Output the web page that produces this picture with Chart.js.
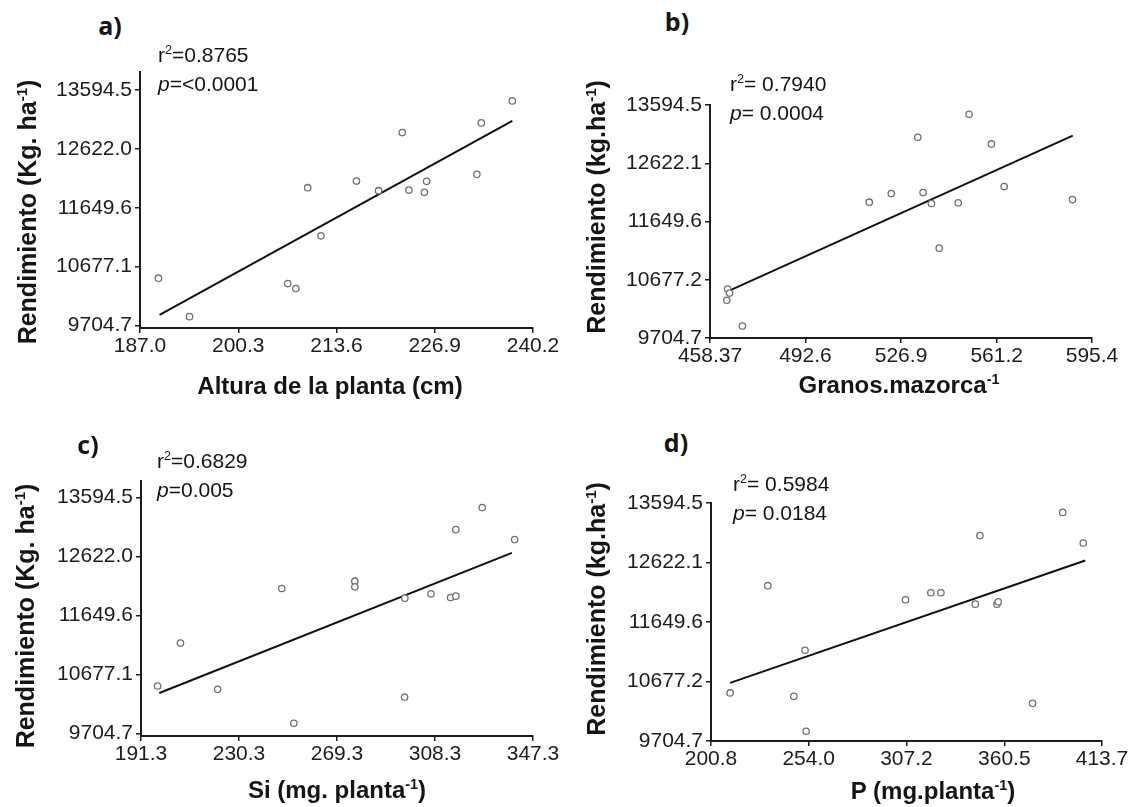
<!DOCTYPE html>
<html>
<head>
<meta charset="utf-8">
<script src="https://cdn.jsdelivr.net/npm/chart.js@4.4.1/dist/chart.umd.min.js"></script>
<style>
body { margin:0; background:#fff; width:1139px; height:807px; position:relative; overflow:hidden;
       font-family:"Liberation Sans", Arial, sans-serif; color:#151515; }
canvas { position:absolute; }
.letter { position:absolute; font-family:"Open Sans", sans-serif; font-weight:700; font-size:25px;
          transform:translate(-50%,-50%); white-space:nowrap; }
.stat { position:absolute; font-size:21px; line-height:26px; white-space:nowrap; }
.xtitle { position:absolute; font-weight:bold; font-size:24px; transform:translate(-50%,-50%); white-space:nowrap; }
.ytitle { position:absolute; font-weight:bold; font-size:25px; transform:translate(-50%,-50%) rotate(-90deg); white-space:nowrap; }
sup { font-size:0.6em; vertical-align:baseline; position:relative; top:-0.6em; }
</style>
</head>
<body>

<canvas id="chart-a"></canvas>
<canvas id="chart-b"></canvas>
<canvas id="chart-c"></canvas>
<canvas id="chart-d"></canvas>

<div class="letter" style="left:110px; top:25px;">a)</div>
<div class="letter" style="left:677px; top:21px;">b)</div>
<div class="letter" style="left:88px; top:444px;">c)</div>
<div class="letter" style="left:676px; top:442px;">d)</div>

<div class="stat" style="left:158px; top:42px;">r<sup>2</sup>=0.8765<br><i>p</i>=&lt;0.0001</div>
<div class="stat" style="left:730px; top:71px;">r<sup>2</sup>= 0.7940<br><i>p</i>= 0.0004</div>
<div class="stat" style="left:157px; top:448px;">r<sup>2</sup>=0.6829<br><i>p</i>=0.005</div>
<div class="stat" style="left:733px; top:471px;">r<sup>2</sup>= 0.5984<br><i>p</i>= 0.0184</div>

<div class="ytitle" style="left:27px; top:212px;">Rendimiento (Kg. ha<sup>-1</sup>)</div>
<div class="ytitle" style="left:596px; top:207px;">Rendimiento (kg.ha<sup>-1</sup>)</div>
<div class="ytitle" style="left:25px; top:616px;">Rendimiento (Kg. ha<sup>-1</sup>)</div>
<div class="ytitle" style="left:596px; top:609px;">Rendimiento (kg.ha<sup>-1</sup>)</div>

<div class="xtitle" style="left:330px; top:386px;">Altura de la planta (cm)</div>
<div class="xtitle" style="left:899px; top:385px;">Granos.mazorca<sup>-1</sup></div>
<div class="xtitle" style="left:337px; top:790px;">Si (mg. planta<sup>-1</sup>)</div>
<div class="xtitle" style="left:933px; top:791px;">P (mg.planta<sup>-1</sup>)</div>

<script>
// Rendimiento axis, shared by the four panels
const rend_ticks = [9704.7, 10677.15, 11649.6, 12622.05, 13594.5];
const rend_labels_ac = ['9704.7', '10677.1', '11649.6', '12622.0', '13594.5'];
const rend_labels_bd = ['9704.7', '10677.2', '11649.6', '12622.1', '13594.5'];

// a) Altura de la planta
const altura = [189.5, 193.7, 207.0, 208.1, 209.7, 211.5, 216.3, 219.3, 222.5, 223.4, 225.5, 225.8, 232.6, 233.2, 237.4];
const rend_a = [10484, 9848, 10395, 10312, 11981, 11185, 12091, 11931, 12893, 11942, 11904, 12086, 12202, 13053, 13417];
const line_a_x = [189.65, 237.4];
const line_a_y = [9876, 13086];
const altura_ticks = [187.0, 200.3, 213.6, 226.9, 240.2];
const altura_labels = ['187.0', '200.3', '213.6', '226.9', '240.2'];

// b) Granos por mazorca
const granos = [464.7, 465.4, 464.4, 470.0, 515.5, 523.4, 532.9, 534.8, 537.8, 540.6, 547.4, 551.3, 559.3, 563.9, 588.4];
const rend_b = [10522, 10455, 10333, 9905, 11972, 12116, 13055, 12133, 11950, 11205, 11961, 13439, 12944, 12233, 12016];
const line_b_x = [465.5, 588.5];
const line_b_y = [10499, 13083];
const granos_ticks = [458.37, 492.6, 526.9, 561.2, 595.4];
const granos_labels = ['458.37', '492.6', '526.9', '561.2', '595.4'];

// c) Si
const silicio = [197.9, 207.0, 221.8, 247.3, 252.1, 276.4, 276.4, 296.3, 296.2, 306.7, 314.5, 316.6, 316.6, 327.1, 340.0];
const rend_c = [10485, 11194, 10430, 12095, 9870, 12215, 12122, 11935, 10304, 12007, 11946, 11968, 13067, 13430, 12902];
const line_c_x = [198.6, 338.9];
const line_c_y = [10370, 12682];
const silicio_ticks = [191.3, 230.3, 269.3, 308.3, 347.3];
const silicio_labels = ['191.3', '230.3', '269.3', '308.3', '347.3'];

// d) P
const fosforo = [211.2, 231.7, 245.9, 252.0, 252.6, 306.7, 320.5, 326.0, 344.7, 347.2, 356.5, 357.2, 375.9, 392.3, 403.5];
const rend_d = [10490, 12243, 10435, 11188, 9864, 12012, 12128, 12128, 11941, 13062, 11941, 11979, 10320, 13441, 12941];
const line_d_x = [211.2, 404.6];
const line_d_y = [10655, 12655];
const fosforo_ticks = [200.8, 254.0, 307.2, 360.5, 413.7];
const fosforo_labels = ['200.8', '254.0', '307.2', '360.5', '413.7'];

function axis_style(ticks, labels, pad){
    return {
        type: 'linear',
        afterBuildTicks: function(scale){ scale.ticks = ticks.map(v => ({value: v})); },
        ticks: {
            autoSkip: false, maxRotation: 0, padding: pad, color: '#1c1c1c',
            font: {family: 'Liberation Sans', size: 21},
            callback: function(value, index){ return labels[index]; }
        },
        grid: {drawOnChartArea: false, tickLength: 5, color: '#1c1c1c', lineWidth: 1.5},
        border: {color: '#1c1c1c', width: 2}
    };
}

function build_chart(canvas_id, area, xs, ys, line_xs, line_ys, x_ticks, x_labels, x_range, y_labels, y_range){
    var pad_left = 120, pad_top = 25, pad_right = 50, pad_bottom = 45;
    var canvas = document.getElementById(canvas_id);
    var w = area.right - area.left + pad_left + pad_right;
    var h = area.bottom - area.top + pad_top + pad_bottom;
    canvas.width = w;
    canvas.height = h;
    canvas.style.width = w + 'px';
    canvas.style.height = h + 'px';
    canvas.style.left = (area.left - pad_left) + 'px';
    canvas.style.top = (area.top - pad_top) + 'px';

    var points = [];
    for (let i = 0; i < xs.length; i++){
        points.push({x: xs[i], y: ys[i]});
    }
    var fit_line = [];
    for (let i = 0; i < line_xs.length; i++){
        fit_line.push({x: line_xs[i], y: line_ys[i]});
    }

    var x_axis = axis_style(x_ticks, x_labels, 1);
    x_axis.min = x_range[0];
    x_axis.max = x_range[1];
    x_axis.afterFit = function(scale){ scale.height = pad_bottom; };

    var y_axis = axis_style(rend_ticks, y_labels, 3);
    y_axis.min = y_range[0];
    y_axis.max = y_range[1];
    y_axis.afterFit = function(scale){ scale.width = pad_left; };

    return new Chart(canvas, {
        type: 'scatter',
        data: {
            datasets: [
                {
                    data: points,
                    pointRadius: 3.2,
                    pointBorderWidth: 1.3,
                    pointBorderColor: '#707070',
                    pointBackgroundColor: '#ffffff',
                    order: 1
                },
                {
                    type: 'line',
                    data: fit_line,
                    borderColor: '#111111',
                    borderWidth: 2,
                    pointRadius: 0,
                    fill: false,
                    order: 2
                }
            ]
        },
        options: {
            responsive: false,
            animation: false,
            devicePixelRatio: 1,
            layout: {padding: {left: 0, top: pad_top, right: pad_right, bottom: 0}},
            plugins: {legend: {display: false}, tooltip: {enabled: false}},
            scales: {x: x_axis, y: y_axis}
        }
    });
}

build_chart('chart-a', {left: 140, right: 533, top: 72, bottom: 328},
    altura, rend_a, line_a_x, line_a_y, altura_ticks, altura_labels, [187.0, 240.2],
    rend_labels_ac, [9660, 13895]);

build_chart('chart-b', {left: 710, right: 1092, top: 105, bottom: 338},
    granos, rend_b, line_b_x, line_b_y, granos_ticks, granos_labels, [458.37, 595.4],
    rend_labels_bd, [9704.7, 13594.5]);

build_chart('chart-c', {left: 141, right: 533, top: 481, bottom: 736},
    silicio, rend_c, line_c_x, line_c_y, silicio_ticks, silicio_labels, [191.3, 347.3],
    rend_labels_ac, [9660, 13869]);

build_chart('chart-d', {left: 711, right: 1102, top: 503, bottom: 741},
    fosforo, rend_d, line_d_x, line_d_y, fosforo_ticks, fosforo_labels, [200.8, 413.7],
    rend_labels_bd, [9704.7, 13594.5]);
</script>
</body>
</html>
